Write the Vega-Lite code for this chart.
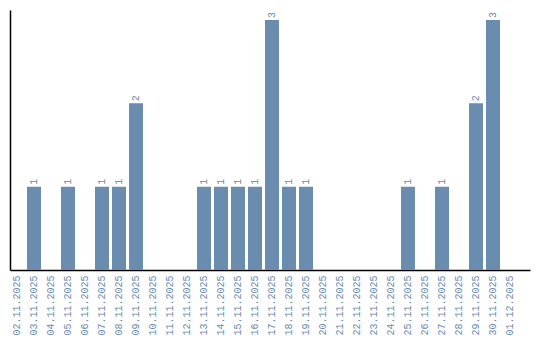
{
  "$schema": "https://vega.github.io/schema/vega-lite/v6.json",
  "autosize": {"type": "none"},
  "padding": {"left": 10, "top": 10, "right": 10, "bottom": 70},
  "width": 520,
  "height": 260,
  "background": "white",
  "config": {"view": {"stroke": null}},
  "data": {"values": [
    {"date": "02.11.2025", "count": 0},
    {"date": "03.11.2025", "count": 1},
    {"date": "04.11.2025", "count": 0},
    {"date": "05.11.2025", "count": 1},
    {"date": "06.11.2025", "count": 0},
    {"date": "07.11.2025", "count": 1},
    {"date": "08.11.2025", "count": 1},
    {"date": "09.11.2025", "count": 2},
    {"date": "10.11.2025", "count": 0},
    {"date": "11.11.2025", "count": 0},
    {"date": "12.11.2025", "count": 0},
    {"date": "13.11.2025", "count": 1},
    {"date": "14.11.2025", "count": 1},
    {"date": "15.11.2025", "count": 1},
    {"date": "16.11.2025", "count": 1},
    {"date": "17.11.2025", "count": 3},
    {"date": "18.11.2025", "count": 1},
    {"date": "19.11.2025", "count": 1},
    {"date": "20.11.2025", "count": 0},
    {"date": "21.11.2025", "count": 0},
    {"date": "22.11.2025", "count": 0},
    {"date": "23.11.2025", "count": 0},
    {"date": "24.11.2025", "count": 0},
    {"date": "25.11.2025", "count": 1},
    {"date": "26.11.2025", "count": 0},
    {"date": "27.11.2025", "count": 1},
    {"date": "28.11.2025", "count": 0},
    {"date": "29.11.2025", "count": 2},
    {"date": "30.11.2025", "count": 3},
    {"date": "01.12.2025", "count": 0}
  ]},
  "encoding": {
    "x": {
      "field": "date", "type": "ordinal", "sort": null,
      "scale": {"paddingInner": 0.1765, "paddingOuter": 0.3824, "align": 0},
      "axis": {
        "title": null, "labelAngle": 270, "labelAlign": "right", "labelBaseline": "middle",
        "labelFont": "Liberation Mono", "labelFontSize": 10, "labelColor": "#6a8aad",
        "labelPadding": 5, "ticks": false, "domainColor": "#000000", "domainWidth": 1.5,
        "grid": false
      }
    },
    "y": {
      "field": "count", "type": "quantitative",
      "scale": {"domain": [0, 3.12], "nice": false},
      "axis": {"title": null, "labels": false, "ticks": false, "grid": false, "domainColor": "#000000", "domainWidth": 1.5}
    }
  },
  "layer": [
    {"mark": {"type": "bar", "color": "#6a8caf"}},
    {
      "transform": [{"filter": "datum.count > 0"}],
      "mark": {"type": "text", "angle": 270, "align": "left", "baseline": "middle", "dx": 2,
               "font": "Liberation Mono", "fontSize": 10, "color": "#6a8aad"},
      "encoding": {"text": {"field": "count", "type": "quantitative"}}
    }
  ]
}
